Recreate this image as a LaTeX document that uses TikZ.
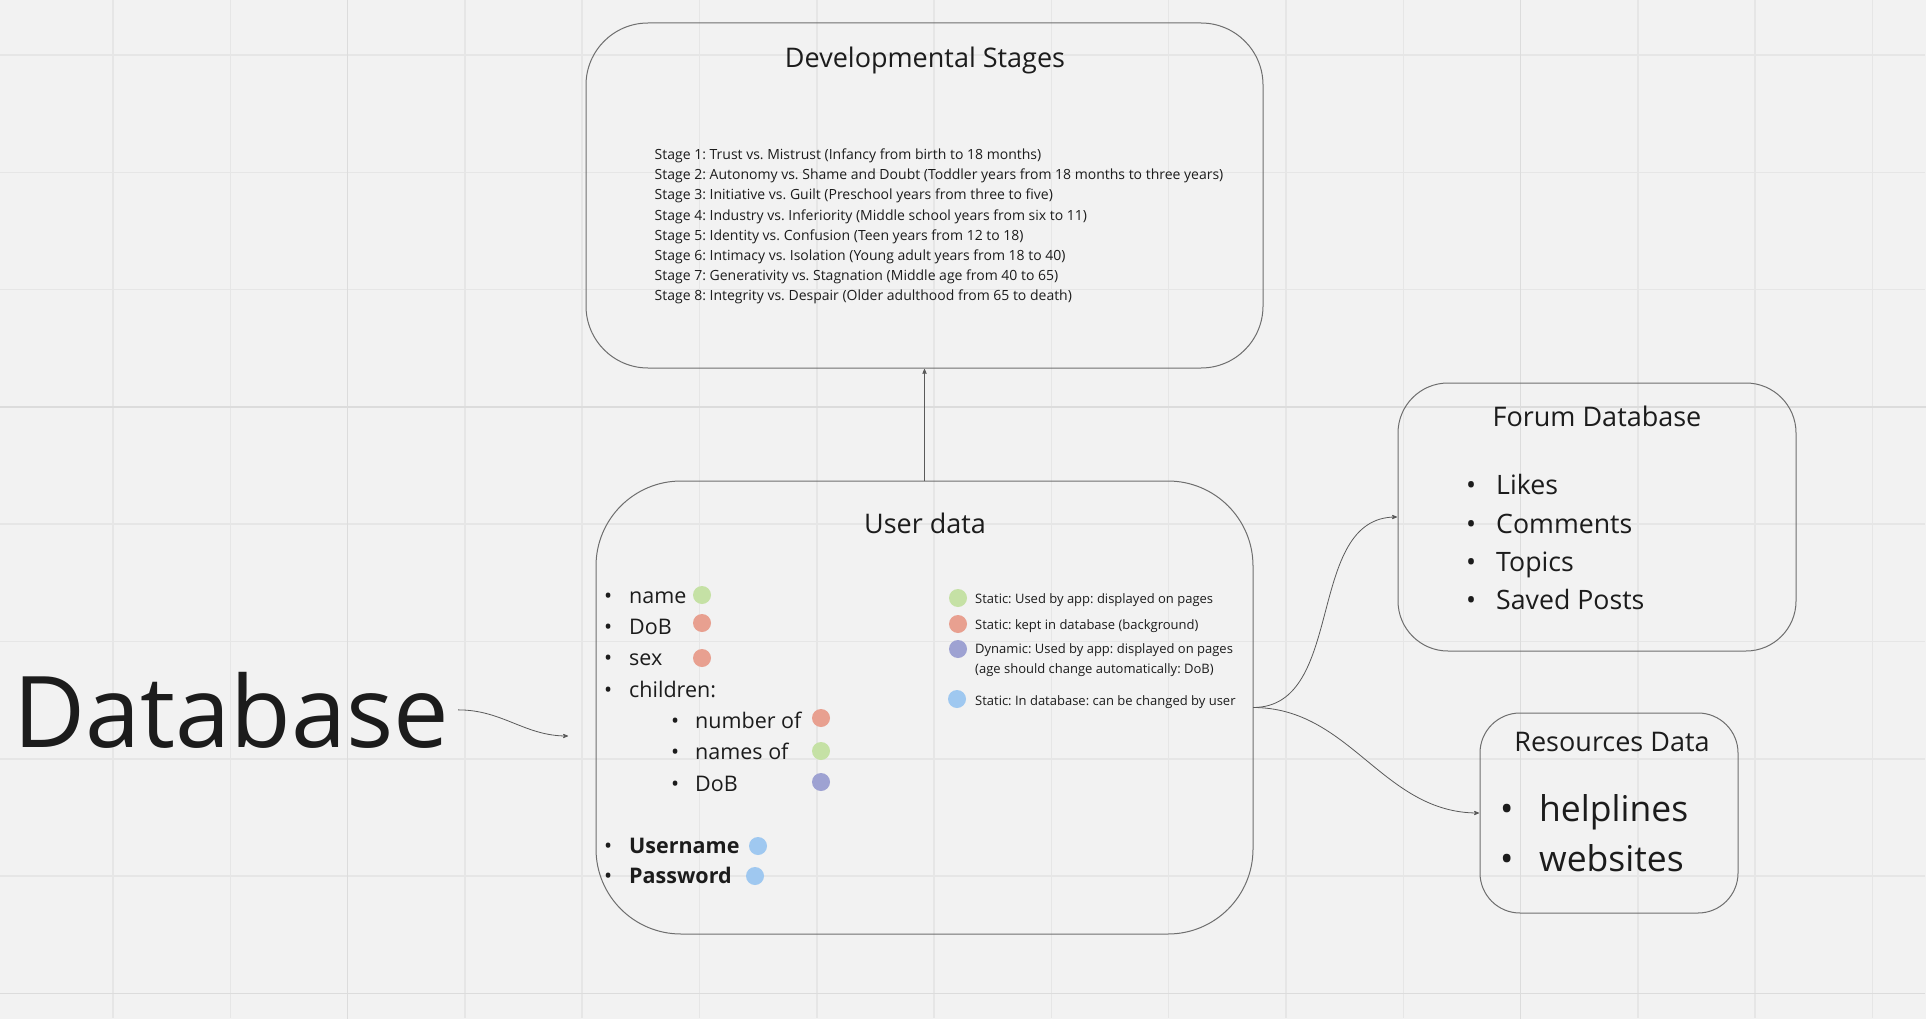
\documentclass[tikz,border=0pt]{standalone}
\usepackage{fontspec}
\setmainfont{Open Sans}
\usepackage{tikz}
\usetikzlibrary{arrows,positioning}
\frenchspacing

\definecolor{bg}{HTML}{F2F2F2}
\definecolor{gridln}{HTML}{E6E6E6}
\definecolor{gridmaj}{HTML}{DCDCDC}
\definecolor{ink}{HTML}{1C1C1C}
\definecolor{edgeln}{HTML}{6E6E6E}
\definecolor{connln}{HTML}{5A5A5A}
\definecolor{cgreen}{HTML}{C5E1A5}
\definecolor{cred}{HTML}{E8A090}
\definecolor{cpurple}{HTML}{9EA2D2}
\definecolor{cblue}{HTML}{9FC8F0}

\newcommand{\fsz}[1]{\fontsize{#1}{#1}\selectfont}
\newcommand{\bul}[1]{\makebox[#1pt][l]{\mdseries\textbullet}}

\begin{document}
\begin{tikzpicture}[x=1pt,y=-1pt,>=stealth',shorten >=1pt,
	box/.style={draw=edgeln,line width=1pt,rounded corners=#1,inner sep=0,outer sep=0},
	dot/.style={circle,fill=#1,minimum size=18,inner sep=0},
	conn/.style={->,draw=connln,line width=0.8pt}]
	\tikzstyle{every node}=[text=ink]
	\tikzstyle{title}=[anchor=base,inner sep=0,font=\fsz{27}]
	\tikzstyle{itm}=[anchor=base west,inner sep=0,font=\fsz{21.5}]
	\tikzstyle{stagetxt}=[anchor=base west,inner sep=0,font=\fsz{14}]
	\tikzstyle{legtxt}=[anchor=base west,inner sep=0,font=\fsz{13}]
	\tikzstyle{bigitm}=[anchor=base west,inner sep=0]
	
	\useasboundingbox (0,0) rectangle (1926,1019);
	\fill[bg] (0,0) rectangle (1926,1019);
	\foreach \k in {0,...,15}
		\draw[gridln,line width=1.5] ({113+117.3*\k},0) -- ({113+117.3*\k},1019);
	\foreach \k in {0,...,8}
		\draw[gridln,line width=1.5] (0,{55+117.3*\k}) -- (1926,{55+117.3*\k});
	\draw[gridmaj,line width=1.5] (347.6,0) -- (347.6,1019) (1520.6,0) -- (1520.6,1019)
		(0,406.9) -- (1926,406.9) (0,993.4) -- (1926,993.4);
	
	\node[box=62,minimum width=677,minimum height=345] (stages) at (924.5,195.5) {};
	\node[box=85,minimum width=657,minimum height=453] (user)   at (924.5,707.5) {};
	\node[box=50,minimum width=398,minimum height=268] (forum)  at (1597,517) {};
	\node[box=40,minimum width=258,minimum height=200] (res)    at (1609,813) {};
	
	\node[anchor=base west,inner sep=9,font=\fsz{99}] (db) at (4,747) {Database};
	\coordinate (dbend) at (569,736);
	
	\node[title] (stagesT) at (925,68) {Developmental Stages};
	\foreach \s [count=\i] in {Trust vs. Mistrust (Infancy from birth to 18 months),
		Autonomy vs. Shame and Doubt (Toddler years from 18 months to three years),
		Initiative vs. Guilt (Preschool years from three to five),
		Industry vs. Inferiority (Middle school years from six to 11),
		Identity vs. Confusion (Teen years from 12 to 18),
		Intimacy vs. Isolation (Young adult years from 18 to 40),
		Generativity vs. Stagnation (Middle age from 40 to 65),
		Integrity vs. Despair (Older adulthood from 65 to death)}
		\node[stagetxt] (st\i) at (654.5,140+20*\i) {Stage \i: \s};
	
	\node[title] (userT) at (925,533) {User data};
	\node[itm] (u1) at (604,603) {\bul{25}name};
	\node[itm] (u2) at (604,634) {\bul{25}DoB};
	\node[itm] (u3) at (604,665) {\bul{25}sex};
	\node[itm] (u4) at (604,697) {\bul{25}children:};
	\node[itm] (c1) at (671,728) {\bul{24}number of};
	\node[itm] (c2) at (671,759) {\bul{24}names of};
	\node[itm] (c3) at (671,791) {\bul{24}DoB};
	\node[itm,font=\fsz{21.5}\bfseries] (u5) at (604,853) {\bul{25}Username};
	\node[itm,font=\fsz{21.5}\bfseries] (u6) at (604,883) {\bul{25}Password};
	\node[dot=cgreen]  (d1) at (702,595) {};
	\node[dot=cred]    (d2) at (702,623) {};
	\node[dot=cred]    (d3) at (702,658) {};
	\node[dot=cred]    (d4) at (821,718) {};
	\node[dot=cgreen]  (d5) at (821,751) {};
	\node[dot=cpurple] (d6) at (821,782) {};
	\node[dot=cblue]   (d7) at (758,846) {};
	\node[dot=cblue]   (d8) at (755,876) {};
	
	\node[dot=cgreen]  (k1) at (958,598) {};
	\node[dot=cred]    (k2) at (958,624) {};
	\node[dot=cpurple] (k3) at (958,649) {};
	\node[dot=cblue]   (k4) at (957,699) {};
	\node[legtxt] (l1)  at (975,603) {Static: Used by app: displayed on pages};
	\node[legtxt] (l2)  at (975,629) {Static: kept in database (background)};
	\node[legtxt] (l3)  at (975,653) {Dynamic: Used by app: displayed on pages};
	\node[legtxt] (l3b) at (975,673) {(age should change automatically: DoB)};
	\node[legtxt] (l4)  at (975,705) {Static: In database: can be changed by user};
	
	\node[title] (forumT) at (1597,426) {Forum Database};
	\foreach \t/\y [count=\i] in {Likes/494.5,Comments/533,Topics/571,Saved Posts/609}
		\node[bigitm,font=\fsz{26.7}] (f\i) at (1466,\y) {\bul{30}\t};
	
	\node[title] (resT) at (1612,751) {Resources Data};
	\node[bigitm,font=\fsz{35.5}] (r1) at (1500,821) {\bul{39}helplines};
	\node[bigitm,font=\fsz{35.5}] (r2) at (1500,871) {\bul{39}websites};
	
	\draw[conn] (user.north) -- (stages.south);
	\draw[conn] (db.east) to[out=0,in=180] (dbend);
	\draw[conn] (user.east) to[out=0,in=180] (forum.west);
	\draw[conn] (user.east) to[out=0,in=180] (res.west);
\end{tikzpicture}
\end{document}
